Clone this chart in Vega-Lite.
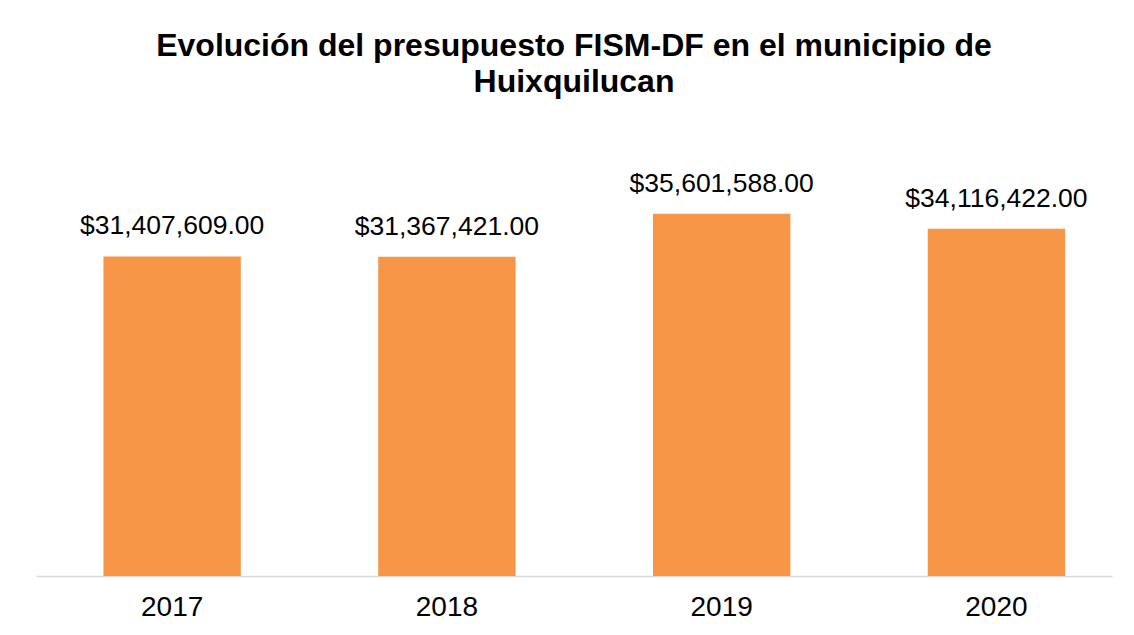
{
  "$schema": "https://vega.github.io/schema/vega-lite/v6.json",
  "autosize": {"type": "none"},
  "width": 1076,
  "height": 407,
  "padding": {"left": 36, "top": 169, "right": 22, "bottom": 59},
  "background": "white",
  "title": {
    "text": ["Evolución del presupuesto FISM-DF en el municipio de", "Huixquilucan"],
    "font": "Liberation Sans",
    "fontSize": 32,
    "fontWeight": "bold",
    "color": "#000000",
    "lineHeight": 36,
    "anchor": "middle",
    "offset": 70
  },
  "data": {
    "values": [
      {"anio": "2017", "monto": 31407609, "etiqueta": "$31,407,609.00"},
      {"anio": "2018", "monto": 31367421, "etiqueta": "$31,367,421.00"},
      {"anio": "2019", "monto": 35601588, "etiqueta": "$35,601,588.00"},
      {"anio": "2020", "monto": 34116422, "etiqueta": "$34,116,422.00"}
    ]
  },
  "encoding": {
    "x": {
      "field": "anio",
      "type": "nominal",
      "sort": null,
      "scale": {"paddingInner": 0.5, "paddingOuter": 0.208, "align": 0.59},
      "axis": {
        "title": null,
        "labelAngle": 0,
        "labelFont": "Liberation Sans",
        "labelFontSize": 28,
        "labelColor": "#000000",
        "labelPadding": 17,
        "ticks": false,
        "domainColor": "#d9d9d9",
        "domainWidth": 1.5,
        "grid": false
      }
    },
    "y": {
      "field": "monto",
      "type": "quantitative",
      "scale": {"domain": [0, 40000000]},
      "axis": null
    }
  },
  "layer": [
    {"mark": {"type": "bar", "color": "#F79646"}},
    {
      "mark": {"type": "text", "font": "Liberation Sans", "fontSize": 26.5, "color": "#000000", "baseline": "alphabetic", "dy": -22},
      "encoding": {"text": {"field": "etiqueta"}}
    }
  ],
  "config": {"view": {"stroke": null}}
}
